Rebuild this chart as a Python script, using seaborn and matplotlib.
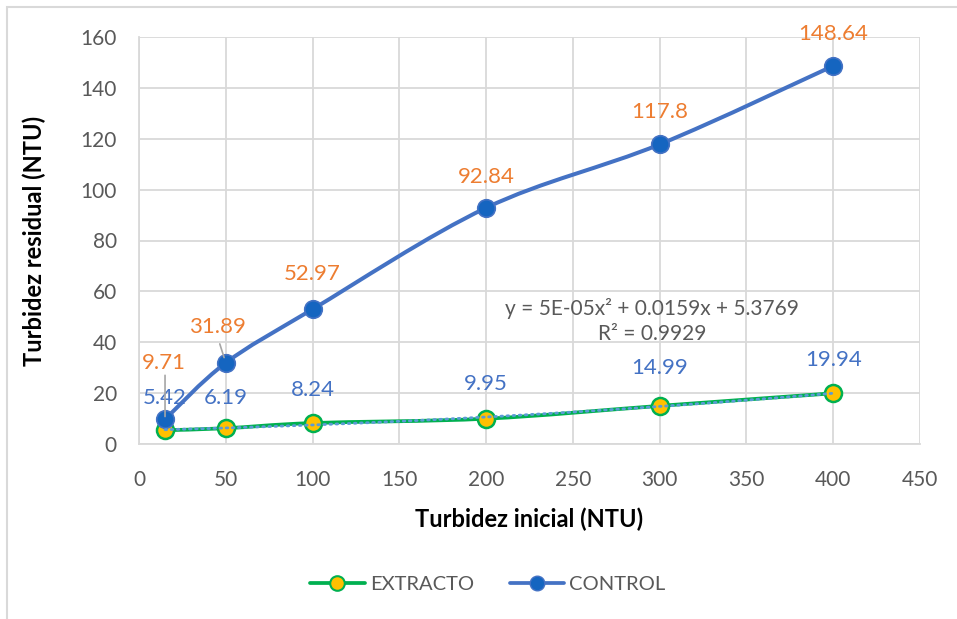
import numpy as np
import pandas as pd
import matplotlib
matplotlib.use("Agg")
import matplotlib.pyplot as plt
import seaborn as sns
from matplotlib.path import Path
from matplotlib.patches import PathPatch, Rectangle
from matplotlib.lines import Line2D

# ---- data ----
turbidez_inicial = [15, 50, 100, 200, 300, 400]
extracto = [5.42, 6.19, 8.24, 9.95, 14.99, 19.94]
control = [9.71, 31.89, 52.97, 92.84, 117.8, 148.64]
series_names = ["EXTRACTO", "CONTROL"]
x_ticks = [0, 50, 100, 150, 200, 250, 300, 350, 400, 450]
y_ticks = [0, 20, 40, 60, 80, 100, 120, 140, 160]
eq_text = "y = 5E-05x² + 0.0159x + 5.3769\nR² = 0.9929"

sns.set_theme(style="white")
plt.rcParams['font.family'] = ['Lato', 'DejaVu Sans']

W, H = 957, 619
fig = plt.figure(figsize=(W / 100, H / 100), dpi=100)
L, R, T, B = 139, 920, 37, 444
ax = fig.add_axes([L / W, 1 - B / H, (R - L) / W, (B - T) / H])

grid_c = "#d9d9d9"
txt_c = "#595959"
ctrl_line = "#4472C4"
ctrl_mark = "#1565C0"
ext_line = "#00B050"
ext_mark = "#FFC000"
trend_c = "#5B9BD5"

# chart-area border (only left/top visible in the crop)
fig.patches.append(Rectangle((7 / W, -0.05), 1.2, 1 - 7 / H + 0.05, transform=fig.transFigure,
                             fill=False, edgecolor=grid_c, lw=1.5, zorder=0))


def smooth_path(xs, ys):
    pts = np.column_stack([xs, ys]).astype(float)
    n = len(pts)
    verts = [pts[0]]
    codes = [Path.MOVETO]
    for i in range(n - 1):
        p0 = pts[i - 1] if i > 0 else pts[i]
        p1 = pts[i]
        p2 = pts[i + 1]
        p3 = pts[i + 2] if i + 2 < n else pts[i + 1]
        c1 = p1 + (p2 - p0) / 6.0
        c2 = p2 - (p3 - p1) / 6.0
        verts += [c1, c2, p2]
        codes += [Path.CURVE4] * 3
    return Path(verts, codes)


df = pd.DataFrame({"x": turbidez_inicial * 2,
                   "y": extracto + control,
                   "serie": [series_names[0]] * 6 + [series_names[1]] * 6})

# extracto line + markers
ax.add_patch(PathPatch(smooth_path(turbidez_inicial, extracto), transform=ax.transData,
                       fill=False, edgecolor=ext_line, lw=2.7, zorder=3, capstyle='round'))
sns.scatterplot(data=df[df.serie == "EXTRACTO"], x="x", y="y", ax=ax, s=150,
                color=ext_mark, edgecolor=ext_line, linewidth=1.8, zorder=4, legend=False)
# control line + markers
ax.add_patch(PathPatch(smooth_path(turbidez_inicial, control), transform=ax.transData,
                       fill=False, edgecolor=ctrl_line, lw=2.9, zorder=5, capstyle='round'))
sns.scatterplot(data=df[df.serie == "CONTROL"], x="x", y="y", ax=ax, s=160,
                color=ctrl_mark, edgecolor=ctrl_line, linewidth=1.2, zorder=6, legend=False)

# polynomial trendline for extracto
coef = np.polyfit(turbidez_inicial, extracto, 2)
xx = np.linspace(min(turbidez_inicial), max(turbidez_inicial), 200)
ax.plot(xx, np.polyval(coef, xx), color=trend_c, lw=2.0, linestyle=(0, (0.6, 1.6)),
        dash_capstyle='round', zorder=7)

ax.set_xlim(0, 450)
ax.set_ylim(0, 160)
ax.set_xticks(x_ticks)
ax.set_yticks(y_ticks)
ax.set_xticklabels([str(v) for v in x_ticks])
ax.set_yticklabels([str(v) for v in y_ticks])
ax.grid(True, color=grid_c, lw=1.3)
ax.set_axisbelow(True)
for s in ax.spines.values():
    s.set_visible(False)
ax.spines['left'].set_visible(True)
ax.spines['bottom'].set_visible(True)
ax.spines['left'].set_color(grid_c)
ax.spines['bottom'].set_color(grid_c)
ax.spines['left'].set_linewidth(1.3)
ax.spines['bottom'].set_linewidth(1.3)
ax.tick_params(axis='both', length=0, labelsize=15, colors=txt_c)
ax.tick_params(axis='y', pad=16)
ax.tick_params(axis='x', pad=19)
ax.set_xlabel("Turbidez inicial (NTU)", fontsize=17, fontweight='bold', color='black', labelpad=12)
ax.set_ylabel("Turbidez residual (NTU)", fontsize=17, fontweight='bold', color='black', labelpad=25)

# data labels (offsets in pixels)
ctrl_off = [(-1, 56), (-8, 36), (0, 35), (0, 31), (0, 32), (0, 32)]
ext_off = [(0, 32), (0, 30), (0, 33), (0, 35), (0, 38), (0, 33)]
for xv, yv, (dx, dy) in zip(turbidez_inicial, control, ctrl_off):
    ax.annotate(f"{yv:g}", (xv, yv), xytext=(dx * 0.72, dy * 0.72), textcoords='offset points',
                ha='center', va='center', fontsize=16, color="#ED7D31", zorder=8)
for xv, yv, (dx, dy) in zip(turbidez_inicial, extracto, ext_off):
    ax.annotate(f"{yv:g}", (xv, yv), xytext=(dx * 0.72, dy * 0.72), textcoords='offset points',
                ha='center', va='center', fontsize=16, color="#4472C4", zorder=8)

# leader lines for moved labels
ax.annotate("", (turbidez_inicial[0], control[0]), xytext=(0, 44 * 0.72), textcoords='offset points',
            arrowprops=dict(arrowstyle='-', color='#a6a6a6', lw=1.2, shrinkA=0, shrinkB=2), zorder=8)
ax.annotate("", (turbidez_inicial[1], control[1]), xytext=(-6 * 0.72, 19 * 0.72), textcoords='offset points',
            arrowprops=dict(arrowstyle='-', color='#a6a6a6', lw=1.2, shrinkA=0, shrinkB=4), zorder=8)

# trendline equation
ax.text((652 - L) / (R - L), 1 - (321 - T) / (B - T), eq_text, transform=ax.transAxes,
        ha='center', va='center', fontsize=15, color=txt_c, linespacing=1.35, zorder=8)

# legend
handles = [Line2D([], [], color=ext_line, lw=2.7, marker='o', markersize=10.5,
                  markerfacecolor=ext_mark, markeredgecolor=ext_line, markeredgewidth=1.5),
           Line2D([], [], color=ctrl_line, lw=2.7, marker='o', markersize=10.5,
                  markerfacecolor=ctrl_mark, markeredgecolor=ctrl_line, markeredgewidth=1)]
leg = fig.legend(handles, series_names, loc='center', bbox_to_anchor=(488 / W, 1 - 584 / H),
                 ncol=2, frameon=False, fontsize=14.5, handlelength=2.7, columnspacing=1.8,
                 handletextpad=0.25)
for t in leg.get_texts():
    t.set_color(txt_c)

fig.savefig("out.png", dpi=100)
